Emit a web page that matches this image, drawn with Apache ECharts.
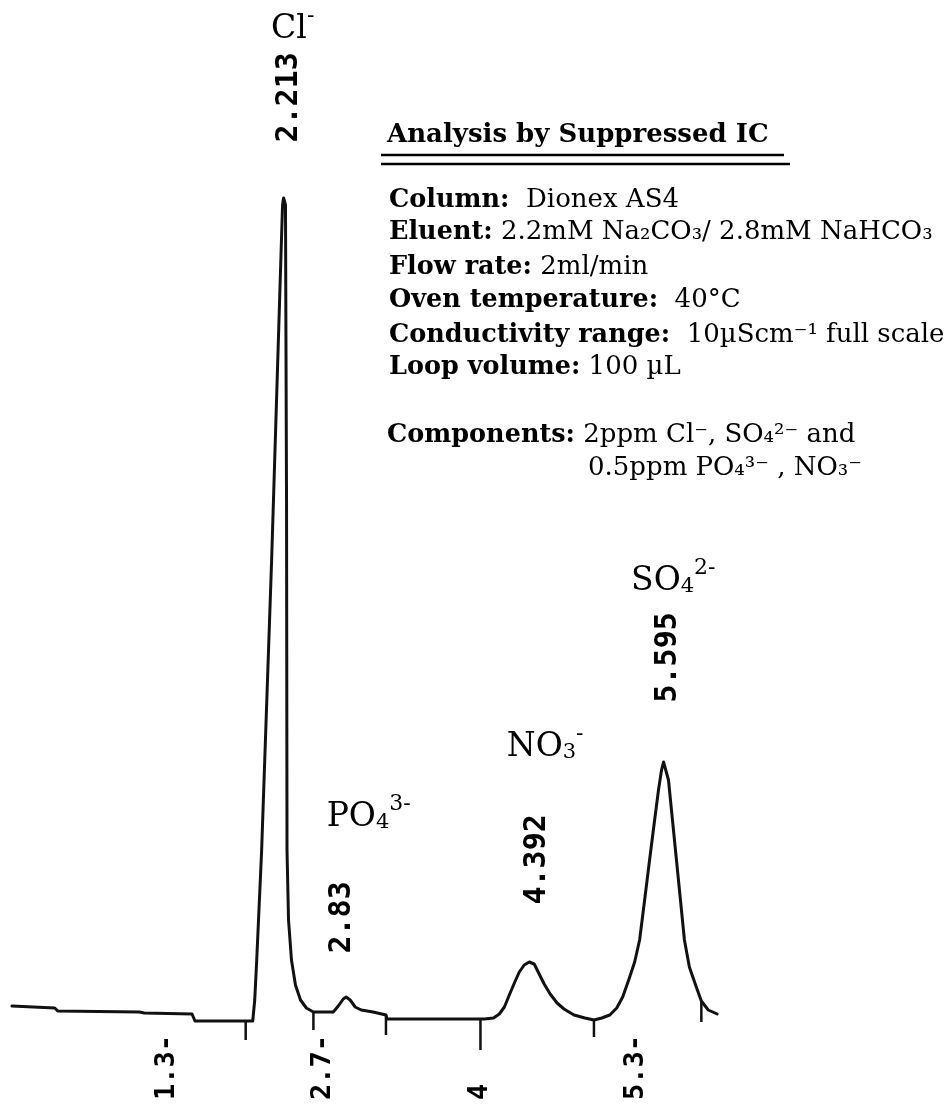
<!DOCTYPE html>
<html>
<head>
<meta charset="utf-8">
<script src="https://cdn.jsdelivr.net/npm/echarts@6/dist/echarts.min.js"></script>
<style>
html,body{margin:0;padding:0;background:#ffffff;}
#chart{width:949px;height:1111px;}
</style>
</head>
<body>
<div id="chart"></div>
<script>
// ---------------- DATA ----------------
// Chromatogram trace: retention time (min) and conductivity signal (µS, relative)
const traceTime = [
  0.017, 0.381, 0.407, 1.102, 1.144, 1.551, 1.576, 2.068,
  2.085, 2.102, 2.144, 2.229, 2.297, 2.322, 2.331, 2.347, 2.356, 2.360, 2.373, 2.398, 2.432, 2.475, 2.525, 2.585,
  2.754, 2.797, 2.839, 2.864, 2.898, 2.941, 2.992, 3.093, 3.203, 3.212,
  4.008, 4.042, 4.119, 4.169, 4.212, 4.254, 4.297, 4.339, 4.381, 4.424, 4.466, 4.500, 4.551, 4.602, 4.661, 4.720, 4.805, 4.898, 4.975,
  5.042, 5.110, 5.169, 5.220, 5.271, 5.322, 5.364, 5.407, 5.449, 5.492, 5.525, 5.551, 5.568, 5.585, 5.610, 5.644, 5.678, 5.712, 5.746, 5.788, 5.847, 5.890, 5.949, 6.025
];
const traceSignal = [
  0.14, 0.12, 0.09, 0.08, 0.07, 0.06, -0.01, -0.01,
  0.20, 0.60, 1.70, 4.60, 7.20, 8.15, 8.22, 8.15, 5.20, 1.70, 1.00, 0.60, 0.35, 0.20, 0.12, 0.08,
  0.08, 0.14, 0.21, 0.23, 0.20, 0.13, 0.10, 0.08, 0.05, 0.01,
  0.01, 0.01, 0.02, 0.06, 0.13, 0.25, 0.37, 0.48, 0.55, 0.58, 0.56, 0.48, 0.36, 0.26, 0.17, 0.11, 0.05, 0.02, 0.00,
  0.02, 0.05, 0.12, 0.23, 0.40, 0.58, 0.80, 1.20, 1.60, 2.00, 2.30, 2.50, 2.58, 2.56, 2.40, 2.00, 1.60, 1.20, 0.80, 0.53, 0.33, 0.19, 0.10, 0.06
];

// Integrator event marks (peak start / end)
const eventTime   = [2.008, 2.585, 3.203, 4.008, 4.975, 5.890];
const eventTop    = [-0.01, 0.08, 0.05, 0.01, 0.00, 0.19];
const eventBottom = [-0.20, -0.10, -0.15, -0.30, -0.17, -0.02];

// Peaks
const peakRT     = ['2.213', '2.83', '4.392', '5.595'];
const peakTime   = [2.331, 2.864, 4.424, 5.568];
const peakSignal = [8.22, 0.23, 0.58, 2.58];
const peakIon    = ['{m|Cl}{sup|-}', '{m|PO}{sub|4}{sup|3-}', '{m|NO}{sub|3}{sup|-}', '{m|SO}{sub|4}{sup|2-}'];

// Time marks printed along the bottom
const timeMarkValue = [1.3333, 2.6667, 4.0, 5.3333];
const timeMarkLabel = ['1.3-', '2.7-', '4', '5.3-'];

// Method description text
const infoTitle  = 'Analysis by Suppressed IC';
const infoLabels = ['Column:', 'Eluent:', 'Flow rate:', 'Oven temperature:', 'Conductivity range:', 'Loop volume:'];
const infoValues = ['  Dionex AS4', ' 2.2mM Na₂CO₃/ 2.8mM NaHCO₃', ' 2ml/min', '  40°C', '  10µScm⁻¹ full scale', ' 100 µL'];
const compLabel  = 'Components:';
const compLine1  = ' 2ppm Cl⁻, SO₄²⁻ and';
const compLine2  = '0.5ppm PO₄³⁻ , NO₃⁻';

// ---------------- LAYOUT / STYLE ----------------
const INK = '#000000';
const rtOffset  = [[6, -55], [-3, -43], [8, -57], [5, -59]];
const ionOffset = [[-12, -152], [-19, -163], [-22, -198], [-32, -164]];
const infoX = 389;
const infoBase = [210, 242, 277, 310, 345, 377];
const compBase = [445, 478];
const compX2 = 588;

const richInfo = {
  b: { fontFamily: 'DejaVu Serif', fontWeight: 'bold', fontSize: 25.5, fill: INK, color: INK },
  r: { fontFamily: 'DejaVu Serif', fontSize: 26, fill: INK, color: INK }
};

function infoText(x, baseline, str) {
  return {
    type: 'text',
    x: x,
    y: baseline - 10,
    style: {
      text: str,
      rich: richInfo,
      verticalAlign: 'middle',
      align: 'left',
      fill: INK
    }
  };
}

const graphics = [];
graphics.push({
  type: 'text', x: 387, y: 145 - 10,
  style: { text: infoTitle, font: 'bold 26px "DejaVu Serif"', fill: INK, verticalAlign: 'middle', align: 'left' }
});
graphics.push({ type: 'line', shape: { x1: 381, y1: 155, x2: 784, y2: 155 }, style: { stroke: INK, lineWidth: 2.5 } });
graphics.push({ type: 'line', shape: { x1: 381, y1: 164, x2: 790, y2: 164 }, style: { stroke: INK, lineWidth: 2.5 } });
infoLabels.forEach((lab, i) => {
  graphics.push(infoText(infoX, infoBase[i], '{b|' + lab + '}{r|' + infoValues[i] + '}'));
});
graphics.push(infoText(infoX - 2, compBase[0], '{b|' + compLabel + '}{r|' + compLine1 + '}'));
graphics.push(infoText(compX2, compBase[1], '{r|' + compLine2 + '}'));

// ---------------- CHART ----------------
const chart = echarts.init(document.getElementById('chart'), null, { renderer: 'canvas' });

const option = {
  animation: false,
  backgroundColor: '#ffffff',
  grid: { left: 10, right: -5, top: 104, bottom: 7, containLabel: false },
  xAxis: {
    type: 'value', min: 0, max: 8, position: 'bottom',
    axisLine: { show: false }, axisTick: { show: false }, splitLine: { show: false },
    axisLabel: {
      show: true, inside: true, rotate: 90, margin: 4,
      customValues: timeMarkValue,
      formatter: function (v) {
        let idx = timeMarkValue.findIndex(t => Math.abs(t - v) < 1e-3);
        return idx >= 0 ? timeMarkLabel[idx] : '';
      },
      fontFamily: 'DejaVu Sans Mono', fontWeight: 'bold', fontSize: 27, color: INK
    }
  },
  yAxis: {
    type: 'value', min: -0.84, max: 9.16, show: false,
    splitLine: { show: false }
  },
  graphic: graphics,
  series: [
    {
      type: 'line',
      data: traceTime.map((t, i) => [t, traceSignal[i]]),
      showSymbol: false, symbol: 'none',
      lineStyle: { color: '#111111', width: 3, join: 'round', cap: 'round' },
      smooth: false,
      z: 3
    },
    {
      type: 'custom',
      data: eventTime.map((t, i) => [t, eventTop[i], eventBottom[i]]),
      encode: { x: 0, y: [1, 2] },
      renderItem: function (params, api) {
        const p1 = api.coord([api.value(0), api.value(1)]);
        const p2 = api.coord([api.value(0), api.value(2)]);
        return { type: 'line', shape: { x1: p1[0], y1: p1[1], x2: p2[0], y2: p2[1] }, style: { stroke: '#111111', lineWidth: 2.5 } };
      },
      z: 3
    },
    {
      type: 'scatter',
      symbolSize: 1,
      itemStyle: { color: 'transparent', opacity: 1 },
      data: peakTime.map((t, i) => ({ value: [t, peakSignal[i]], label: { position: rtOffset[i] } })),
      label: {
        show: true, rotate: 90, align: 'left', verticalAlign: 'middle', opacity: 1,
        formatter: p => peakRT[p.dataIndex],
        fontFamily: 'DejaVu Sans Mono', fontWeight: 'bold', fontSize: 30, color: INK
      },
      z: 4
    },
    {
      type: 'scatter',
      symbolSize: 1,
      itemStyle: { color: 'transparent', opacity: 1 },
      data: peakTime.map((t, i) => ({ value: [t, peakSignal[i]], label: { position: ionOffset[i] } })),
      label: {
        show: true, align: 'left', verticalAlign: 'bottom', opacity: 1,
        formatter: p => peakIon[p.dataIndex],
        rich: {
          m: { fontFamily: 'DejaVu Serif', fontSize: 33, color: INK, verticalAlign: 'bottom', lineHeight: 40 },
          sub: { fontFamily: 'DejaVu Serif', fontSize: 21, color: INK, verticalAlign: 'bottom', lineHeight: 40 },
          sup: { fontFamily: 'DejaVu Serif', fontSize: 22, color: INK, verticalAlign: 'top', lineHeight: 40 }
        }
      },
      z: 4
    }
  ]
};
chart.setOption(option);
</script>
</body>
</html>
